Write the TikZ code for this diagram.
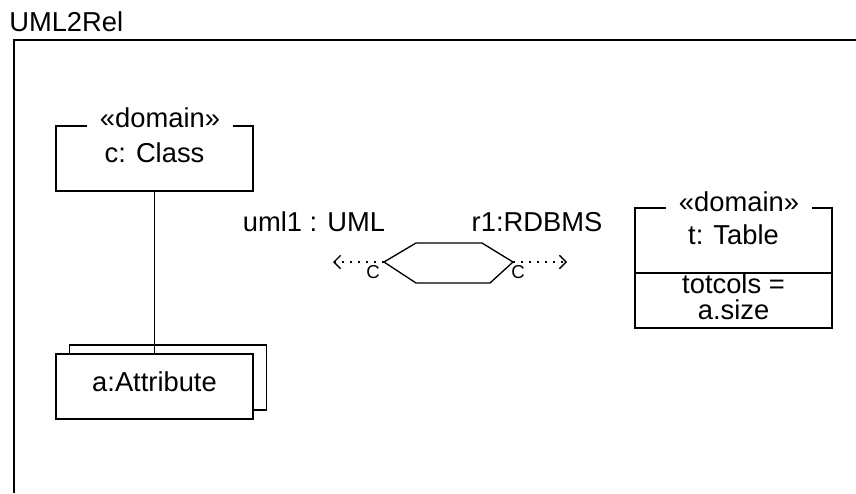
\documentclass[tikz,border=0pt]{standalone}
\usepackage{fontspec}
\setmainfont{Liberation Sans}
\usetikzlibrary{arrows.meta}

\tikzset{
  umltext/.style={font=\fontsize{20.5}{24}\selectfont, inner sep=0.75pt},
  smalltext/.style={font=\fontsize{14}{16}\selectfont, inner sep=0.75pt},
  domainlbl/.style={umltext, fill=white, inner xsep=10pt, inner ysep=2pt},
  objbox/.style={draw, line width=1pt, fill=white, minimum width=147.75pt, minimum height=48.75pt},
  dotarrow/.style={line width=1pt, dash pattern=on 1.2pt off 4.8pt, -{Straight Barb[length=5pt,width=10pt]}}
}

\begin{document}
\begin{tikzpicture}[x=0.75pt,y=0.75pt,yscale=-1,xscale=1]
\useasboundingbox (0,0) rectangle (856,493);

% Frame
\draw [line width=1pt] (14,493) -- (14,40) -- (856,40) ;
\node [umltext, anchor=west] (title) at (8,22) {UML2Rel};

% Class object
\node [objbox] (cls) at (154.5,158.5) {};
\node [umltext] (clsname) at (154.5,153) {c: Class};
\node [domainlbl] (clsdom) at (160,118) {«domain»};

% Attribute object (multi)
\node [objbox] (attrback) at (168,377.5) {};
\node [objbox] (attr) at (154.5,386.5) {};
\node [umltext] (attrname) at (154.5,382) {a:Attribute};

% Straight Lines
\draw [line width=1pt] (cls) -- (attr) ;

% Table object
\node [objbox, minimum height=90pt] (tbl) at (733.5,268) {};
\coordinate (divy) at (0,273);
\draw [line width=1pt] (tbl.west |- divy) -- (tbl.east |- divy) ;
\node [domainlbl] (tbldom) at (739,202) {«domain»};
\node [umltext] (tblname) at (733.5,235) {t: Table};
\node [umltext] (tblattr1) at (733.5,284) {totcols =};
\node [umltext] (tblattr2) at (733.5,310) {a.size};

% Relation hexagon
\coordinate (hexL) at (384,262);
\coordinate (hexTL) at (416,243);
\coordinate (hexTR) at (482,243);
\coordinate (hexR) at (513,262);
\coordinate (hexBR) at (490,283);
\coordinate (hexBL) at (416,283);
\draw [line width=1pt] (hexL) -- (hexTL) -- (hexTR) -- (hexR) -- (hexBR) -- (hexBL) -- cycle ;

% Domain connectors
\coordinate (umlEnd) at (333,262);
\coordinate (rdbEnd) at (567,262);
\draw [dotarrow] (hexL) -- (umlEnd) ;
\draw [dotarrow] (hexR) -- (rdbEnd) ;

% Text Node
\node [umltext] (umlmodel) at (314,222) {uml1 : UML};
\node [umltext] (rdbmodel) at (537,222) {r1:RDBMS};
\node [smalltext] (umlchk) at (373,272) {C};
\node [smalltext] (rdbchk) at (518,272) {C};

\end{tikzpicture}
\end{document}
